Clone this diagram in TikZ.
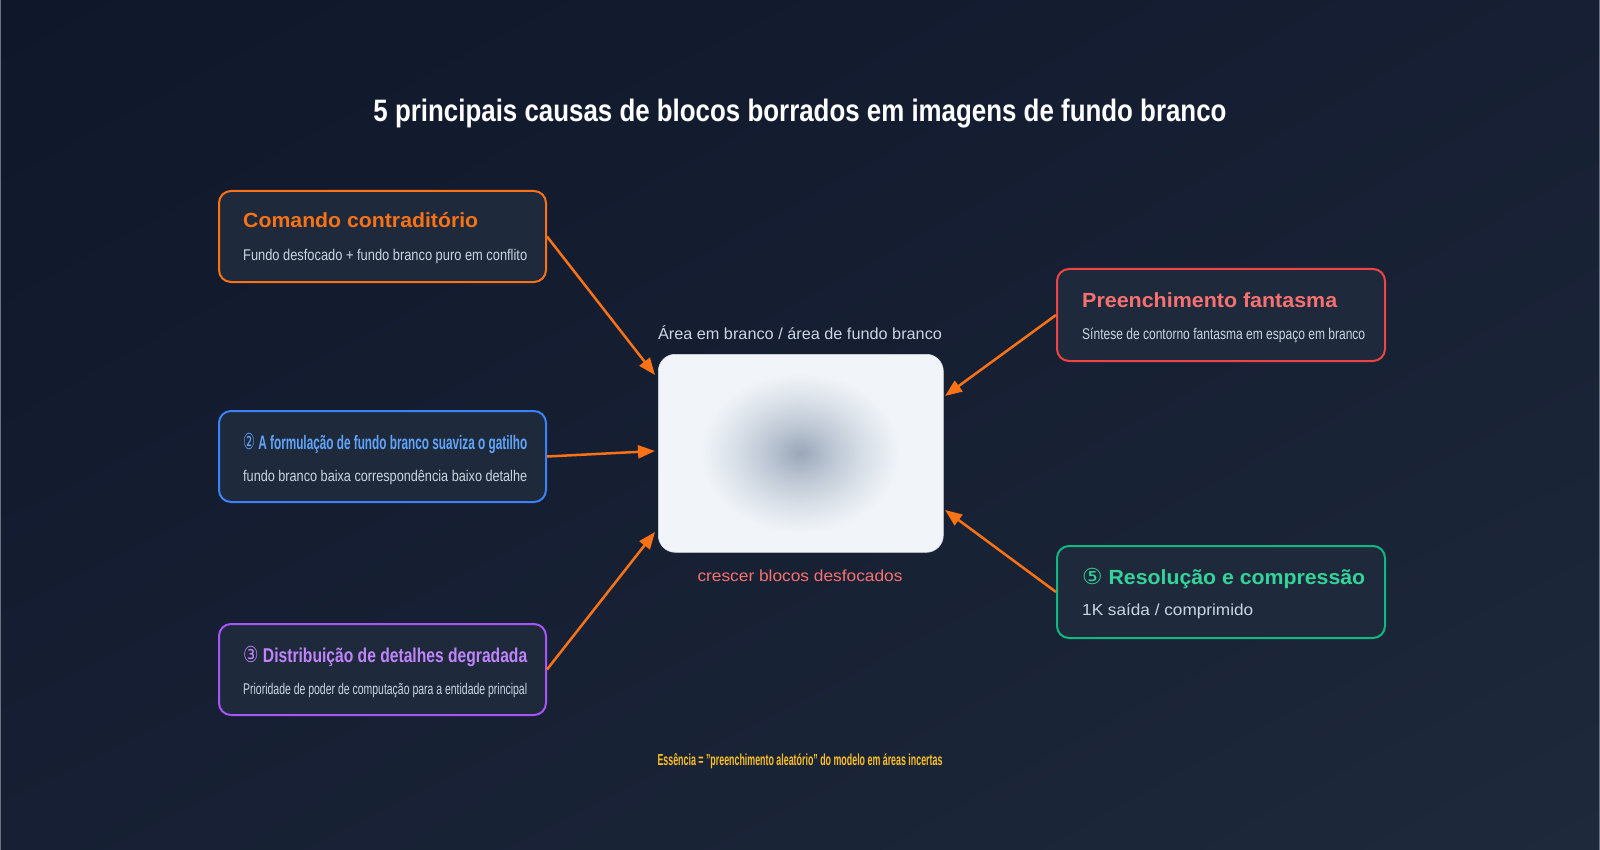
\documentclass[tikz,border=0pt]{standalone}
\usepackage{fontspec}
\setmainfont{Liberation Sans}
\newfontfamily\djv{DejaVu Sans}
\usetikzlibrary{arrows.meta,shadings}
\definecolor{bgA}{HTML}{0F172A}
\definecolor{bgB}{HTML}{1E293B}
\definecolor{bgM}{HTML}{161F33}
\definecolor{boxfill}{HTML}{1E293B}
\definecolor{subtxt}{HTML}{CBD5E1}
\definecolor{cOrange}{HTML}{F97316}
\definecolor{cBlueB}{HTML}{3B82F6}
\definecolor{cBlueT}{HTML}{60A5FA}
\definecolor{cPurpB}{HTML}{A855F7}
\definecolor{cPurpT}{HTML}{C084FC}
\definecolor{cRedB}{HTML}{EF4444}
\definecolor{cRedT}{HTML}{F87171}
\definecolor{cGreenB}{HTML}{10B981}
\definecolor{cGreenT}{HTML}{34D399}
\definecolor{cYellow}{HTML}{FBBF24}
\definecolor{boxwhite}{HTML}{F1F5F9}
\definecolor{blurc}{HTML}{9AA7B8}
\definecolor{blurm}{HTML}{BCC6D3}
\definecolor{edgegray}{HTML}{6B7280}
\newcommand{\fitw}[2]{\resizebox{#1}{\height}{#2}}
\newcommand{\circd}[1]{{\djv\mdseries\fontsize{22}{24}\selectfont #1}}
\pgfdeclareradialshading{blurshade}{\pgfpoint{0bp}{0bp}}{color(0bp)=(blurc); color(8bp)=(blurm); color(17bp)=(boxwhite!75!blurc); color(25bp)=(boxwhite); color(50bp)=(boxwhite)}
\tikzset{
  cause/.style={draw=#1, fill=boxfill, line width=2pt, rounded corners=12pt,
    minimum width=327pt, minimum height=91pt, anchor=north west, inner sep=0pt},
  ttl/.style={anchor=base west, inner sep=0pt, text=#1},
  sub/.style={anchor=base west, inner sep=0pt, text=subtxt},
  flow/.style={draw=cOrange, line width=2.5pt, -{Triangle[length=17pt,width=13pt]}},
}
\begin{document}
\begin{tikzpicture}[x=1pt,y=-1pt]
\useasboundingbox (0,0) rectangle (1600,850);
\shade[upper left=bgA, lower right=bgB, upper right=bgM, lower left=bgM] (0,0) rectangle (1600,850);
\draw[edgegray, line width=1pt] (0.5,0) -- (0.5,850);
\draw[edgegray, line width=1pt] (1599.5,0) -- (1599.5,850);

% title
\node[anchor=base, inner sep=0pt, text=white] (title) at (800,122)
  {\fitw{853pt}{\fontsize{31}{36}\selectfont\bfseries 5 principais causas de blocos borrados em imagens de fundo branco}};

% centre area
\node[draw=boxwhite!80!gray, line width=0.6pt, fill=boxwhite, rounded corners=17pt, minimum width=285pt, minimum height=198pt, anchor=north west, inner sep=0pt] (c) at (658,354) {};
\begin{scope}
  \clip[rounded corners=17pt] (659,355) rectangle (942,551);
  \shade[shading=blurshade] (800,453) ellipse (100 and 80);
\end{scope}
\node[anchor=base, inner sep=0pt, text=subtxt] (ctop) at (800,339)
  {\fitw{284pt}{\fontsize{16}{19}\selectfont Área em branco / área de fundo branco}};
\node[anchor=base, inner sep=0pt, text=cRedT] (cbot) at (800,581)
  {\fitw{205pt}{\fontsize{16}{19}\selectfont crescer blocos desfocados}};

% boxes
\node[cause=cOrange] (b1) at (218,190) {};
\node[ttl=cOrange] (t1) at (243,228) {\fitw{235pt}{\fontsize{20.5}{24}\selectfont\bfseries Comando contraditório}};
\node[sub] (s1) at (243,261) {\fitw{284pt}{\fontsize{15.5}{18}\selectfont Fundo desfocado + fundo branco puro em conflito}};

\node[cause=cBlueB] (b2) at (218,410) {};
\node[ttl=cBlueT] (t2) at (243,449) {\fitw{284pt}{\fontsize{19.5}{23}\selectfont\bfseries\circd{②} A formulação de fundo branco suaviza o gatilho}};
\node[sub] (s2) at (243,481) {\fitw{284pt}{\fontsize{15.5}{18}\selectfont fundo branco baixa correspondência baixo detalhe}};

\node[cause=cPurpB] (b3) at (218,623) {};
\node[ttl=cPurpT] (t3) at (243,662) {\fitw{284pt}{\fontsize{20}{23}\selectfont\bfseries\circd{③} Distribuição de detalhes degradada}};
\node[sub] (s3) at (243,694) {\fitw{284pt}{\fontsize{15.5}{18}\selectfont Prioridade de poder de computação para a entidade principal}};

\node[cause=cRedB, minimum width=328pt, minimum height=92pt] (b4) at (1056,268) {};
\node[ttl=cRedT] (t4) at (1082,307) {\fitw{255pt}{\fontsize{20.5}{24}\selectfont\bfseries Preenchimento fantasma}};
\node[sub] (s4) at (1082,339) {\fitw{283pt}{\fontsize{15.5}{18}\selectfont Síntese de contorno fantasma em espaço em branco}};

\node[cause=cGreenB, minimum width=328pt, minimum height=92pt] (b5) at (1056,545) {};
\node[ttl=cGreenT] (t5) at (1082,584) {\fitw{283pt}{\fontsize{20.5}{24}\selectfont\bfseries\circd{⑤} Resolução e compressão}};
\node[sub] (s5) at (1082,615) {\fitw{171pt}{\fontsize{16}{19}\selectfont 1K saída / comprimido}};

% bottom note
\node[anchor=base, inner sep=0pt, text=cYellow] (note) at (800,765)
  {\fitw{285pt}{\fontsize{16}{19}\selectfont\bfseries Essência = "preenchimento aleatório" do modelo em áreas incertas}};

% arrow targets
\coordinate (e1) at (655,375);
\coordinate (e2) at (655,451);
\coordinate (e3) at (655,532);
\coordinate (e4) at (945,396);
\coordinate (e5) at (945,510);

\draw[flow] (b1.east) -- (e1);
\draw[flow] (b2.east) -- (e2);
\draw[flow] (b3.east) -- (e3);
\draw[flow] (b4.west) -- (e4);
\draw[flow] (b5.west) -- (e5);
\end{tikzpicture}
\end{document}
